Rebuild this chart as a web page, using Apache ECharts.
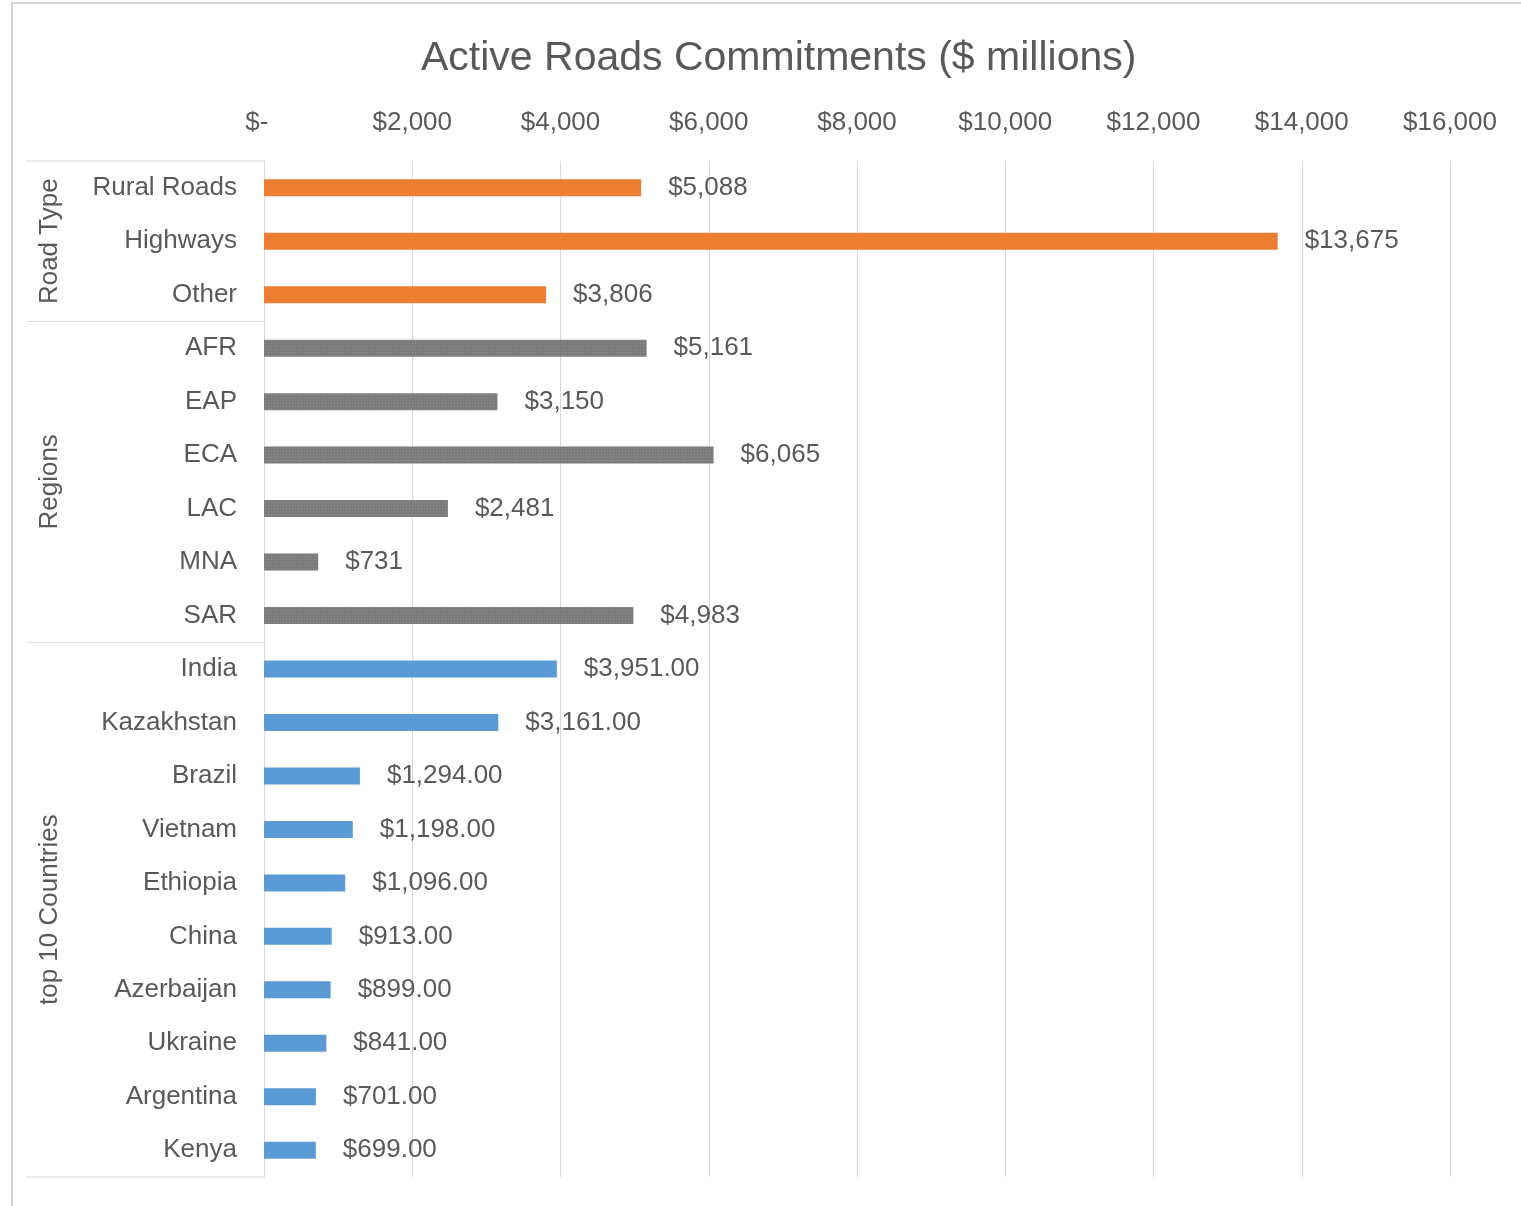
<!DOCTYPE html>
<html>
<head>
<meta charset="utf-8">
<script src="https://cdn.jsdelivr.net/npm/echarts@6/dist/echarts.min.js"></script>
<style>
  html, body { margin: 0; padding: 0; background: #fff; }
  #chart { width: 1521px; height: 1206px; }
</style>
</head>
<body>
<div id="chart"></div>
<script>
// Road type breakdown ($ millions)
const roadTypes = ['Rural Roads', 'Highways', 'Other'];
const roadValues = [5088, 13675, 3806];

// Regions
const regions = ['AFR', 'EAP', 'ECA', 'LAC', 'MNA', 'SAR'];
const regionValues = [5161, 3150, 6065, 2481, 731, 4983];

// Top 10 countries
const countries = ['India', 'Kazakhstan', 'Brazil', 'Vietnam', 'Ethiopia', 'China', 'Azerbaijan', 'Ukraine', 'Argentina', 'Kenya'];
const countryValues = [3951, 3161, 1294, 1198, 1096, 913, 899, 841, 701, 699];

const groupNames = ['Road Type', 'Regions', 'top 10 Countries'];
const groupCats = [roadTypes, regions, countries];

const allCats = roadTypes.concat(regions, countries);

const TEXT = '#595959';
const GRID = '#d9d9d9';
const FONT = '"Liberation Sans", Arial, sans-serif';

// thousands separator done by hand, toLocaleString is not reliable here
const commas = s => s.replace(/\B(?=(\d{3})+(?!\d))/g, ',');
const fmt0 = v => '$' + commas(String(Math.round(Number(v))));
const fmt2 = v => {
  const parts = Number(v).toFixed(2).split('.');
  return '$' + commas(parts[0]) + '.' + parts[1];
};

function barSeries(name, cats, values, color, formatter, extraStyle) {
  return {
    name: name,
    type: 'bar',
    barWidth: 17,
    barGap: '-100%',
    data: cats.map((c, i) => [values[i], c]),
    itemStyle: Object.assign({ color: color }, extraStyle || {}),
    label: {
      show: true,
      position: 'right',
      distance: 27,
      color: TEXT,
      fontSize: 26,
      fontFamily: FONT,
      formatter: p => formatter(p.value[0])
    }
  };
}

const chart = echarts.init(document.getElementById('chart'));

const option = {
  animation: false,
  textStyle: { fontFamily: FONT },
  title: {
    text: 'Active Roads Commitments ($ millions)',
    left: 416,
    top: 33,
    textStyle: { color: TEXT, fontSize: 41, fontWeight: 'normal', fontFamily: FONT }
  },
  grid: { left: 264, right: 71, top: 161, bottom: 29 },
  xAxis: {
    type: 'value',
    position: 'top',
    min: 0,
    max: 16000,
    interval: 2000,
    axisLine: { show: false },
    axisTick: { show: false },
    splitLine: { lineStyle: { color: GRID, width: 1 } },
    axisLabel: {
      color: TEXT,
      fontSize: 26,
      fontFamily: FONT,
      margin: 25,
      formatter: v => Number(v) === 0 ? '$-  ' : fmt0(v)
    }
  },
  yAxis: {
    type: 'category',
    inverse: true,
    data: allCats,
    axisLine: { lineStyle: { color: GRID } },
    axisTick: { show: false },
    axisLabel: { color: TEXT, fontSize: 26, fontFamily: FONT, margin: 27 }
  },
  series: [
    barSeries('Road Type', roadTypes, roadValues, '#ED7D31', fmt0),
    barSeries('Regions', regions, regionValues, '#7b7b7b', fmt0, {
      decal: {
        symbol: 'circle',
        symbolSize: 0.5,
        color: 'rgba(165,165,165,0.45)',
        dashArrayX: [3, 0],
        dashArrayY: [3, 0]
      }
    }),
    barSeries('top 10 Countries', countries, countryValues, '#5B9BD5', fmt2)
  ]
};

chart.setOption(option);

// Group brackets on the left, placed from the category axis scale
const band = chart.convertToPixel({ yAxisIndex: 0 }, allCats[1]) - chart.convertToPixel({ yAxisIndex: 0 }, allCats[0]);
const axisX = chart.convertToPixel({ xAxisIndex: 0 }, 0);
const graphics = [
  {
    type: 'polyline',
    shape: { points: [[12, 1206], [12, 3], [1521, 3]] },
    style: { stroke: '#d4d4d4', lineWidth: 2, fill: null },
    silent: true
  }
];
const firstY = chart.convertToPixel({ yAxisIndex: 0 }, allCats[0]) - band / 2;
graphics.push({
  type: 'line',
  shape: { x1: 27, y1: firstY, x2: axisX, y2: firstY },
  style: { stroke: GRID, lineWidth: 1 },
  silent: true
});
groupCats.forEach((cats, gi) => {
  const y0 = chart.convertToPixel({ yAxisIndex: 0 }, cats[0]) - band / 2;
  const y1 = chart.convertToPixel({ yAxisIndex: 0 }, cats[cats.length - 1]) + band / 2;
  graphics.push({
    type: 'line',
    shape: { x1: 27, y1: y1, x2: axisX, y2: y1 },
    style: { stroke: GRID, lineWidth: 1 },
    silent: true
  });
  graphics.push({
    type: 'text',
    x: 50,
    y: (y0 + y1) / 2,
    rotation: Math.PI / 2,
    style: {
      text: groupNames[gi],
      fill: TEXT,
      font: '26px ' + FONT,
      textAlign: 'center',
      textVerticalAlign: 'middle'
    },
    silent: true
  });
});
chart.setOption({ graphic: graphics });
</script>
</body>
</html>
